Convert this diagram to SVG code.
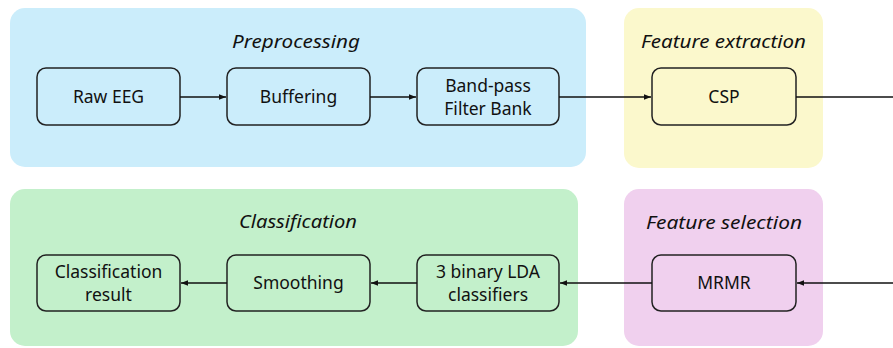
<svg xmlns="http://www.w3.org/2000/svg" width="893" height="348" viewBox="0 0 893 348">
<defs>
<style>
.cl{stroke:none}
.nd{fill:none;stroke:#222;stroke-width:1.5}
.t{font-family:"Noto Sans","Open Sans",sans-serif;font-size:17.5px;fill:#111;text-anchor:middle}
.ct{font-family:"Noto Sans","Open Sans",sans-serif;font-size:18.5px;font-style:italic;fill:#111;text-anchor:middle}
.e{fill:none;stroke:#111;stroke-width:1.3}
</style>
<marker id="ah" viewBox="0 0 10 10" refX="10" refY="5" markerWidth="7" markerHeight="7" markerUnits="userSpaceOnUse" orient="auto">
<path d="M0,1 L10,5 L0,9 z" fill="#111"/>
</marker>
</defs>
<g id="cluster-preprocessing">
<rect class="cl" x="10" y="8" width="576" height="159" rx="15" fill="#cbedfb"/>
<text class="ct" x="296" y="48" textLength="128" lengthAdjust="spacingAndGlyphs">Preprocessing</text>
</g>
<g id="cluster-feature-extraction">
<rect class="cl" x="624" y="8" width="199" height="160" rx="15" fill="#fbf8cc"/>
<text class="ct" x="723.5" y="48" textLength="165" lengthAdjust="spacingAndGlyphs">Feature extraction</text>
</g>
<g id="cluster-classification">
<rect class="cl" x="10" y="189" width="568" height="157" rx="15" fill="#c3f0cb"/>
<text class="ct" x="298" y="228" textLength="118" lengthAdjust="spacingAndGlyphs">Classification</text>
</g>
<g id="cluster-feature-selection">
<rect class="cl" x="624" y="189" width="199" height="157" rx="15" fill="#f0d0ee"/>
<text class="ct" x="724" y="229" textLength="156" lengthAdjust="spacingAndGlyphs">Feature selection</text>
</g>
<g id="raw-eeg">
<rect class="nd" x="37" y="68" width="143" height="57" rx="9"/>
<text class="t" x="108.5" y="103">Raw EEG</text>
</g>
<g id="buffering">
<rect class="nd" x="227" y="68" width="143" height="57" rx="9"/>
<text class="t" x="298.5" y="103">Buffering</text>
</g>
<g id="band-pass">
<rect class="nd" x="417" y="68" width="142" height="57" rx="9"/>
<text class="t" x="488" y="92">Band-pass</text>
<text class="t" x="488" y="115">Filter Bank</text>
</g>
<g id="csp">
<rect class="nd" x="652" y="68" width="144" height="57" rx="9"/>
<text class="t" x="724" y="103">CSP</text>
</g>
<g id="classification-result">
<rect class="nd" x="37" y="255" width="143" height="56" rx="9"/>
<text class="t" x="108.5" y="278">Classification</text>
<text class="t" x="108.5" y="301">result</text>
</g>
<g id="smoothing">
<rect class="nd" x="227" y="255" width="143" height="56" rx="9"/>
<text class="t" x="298.5" y="289">Smoothing</text>
</g>
<g id="lda">
<rect class="nd" x="417" y="255" width="142" height="56" rx="9"/>
<text class="t" x="488" y="278">3 binary LDA</text>
<text class="t" x="488" y="301">classifiers</text>
</g>
<g id="mrmr">
<rect class="nd" x="652" y="255" width="144" height="56" rx="9"/>
<text class="t" x="724" y="289">MRMR</text>
</g>
<g id="connectors">
<path class="e" d="M180,97 H226" marker-end="url(#ah)"/>
<path class="e" d="M370,97 H416" marker-end="url(#ah)"/>
<path class="e" d="M559,97 H651" marker-end="url(#ah)"/>
<path class="e" d="M796,97 H893"/>
<path class="e" d="M893,283 H797" marker-end="url(#ah)"/>
<path class="e" d="M652,283 H560" marker-end="url(#ah)"/>
<path class="e" d="M417,283 H371" marker-end="url(#ah)"/>
<path class="e" d="M227,283 H181" marker-end="url(#ah)"/>
</g>
</svg>
